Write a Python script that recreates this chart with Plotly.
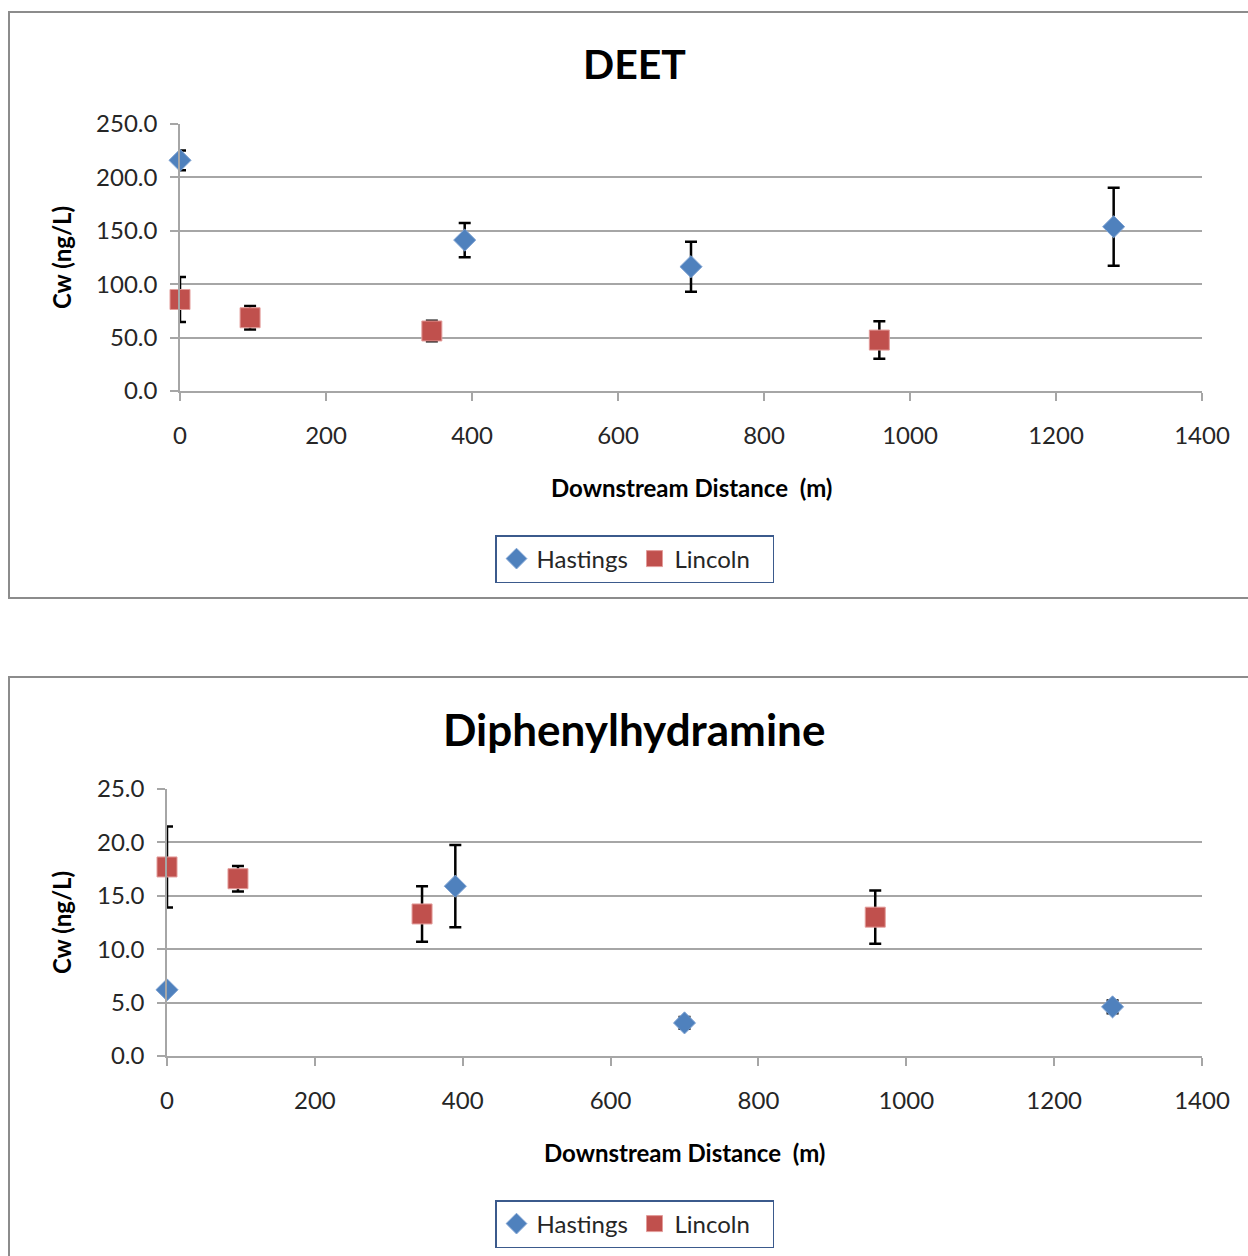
import plotly.graph_objects as go

# ---- data ----
dist_hastings = [0, 390, 700, 1279]
dist_lincoln = [0, 96, 345, 958]

deet_hastings = [216.0, 141.3, 116.4, 153.8]
deet_hastings_err = [9.2, 16.0, 23.4, 36.5]
deet_lincoln = [85.7, 68.6, 56.2, 47.7]
deet_lincoln_err = [21.0, 11.0, 9.6, 17.5]

dph_hastings = [6.2, 15.9, 3.1, 4.6]
dph_hastings_err = [0.3, 3.85, 0.55, 0.6]
dph_lincoln = [17.7, 16.6, 13.3, 13.0]
dph_lincoln_err = [3.8, 1.2, 2.6, 2.5]

x_ticks = [0, 200, 400, 600, 800, 1000, 1200, 1400]
deet_ticks = [0, 50, 100, 150, 200, 250]
dph_ticks = [0, 5, 10, 15, 20, 25]

titles = ["DEET", "Diphenylhydramine"]
title_sizes = [41, 44]
x_title = "Downstream Distance&nbsp; (m)"
y_title = "Cw (ng/L)"

W, H = 1248, 1256
BLUE = "#4F81BD"
RED = "#C0504D"
GRID = "#A6A6A6"
FONT = "Lato"


def px(x):
    return x / W


def py(y):
    return 1 - y / H


err_style = dict(type="data", color="black", thickness=2.5, width=6, visible=True)
diamond = dict(symbol="diamond", size=17, color=BLUE, line=dict(color="#7FA3D3", width=1))
square = dict(symbol="square", size=20, color=RED, line=dict(color="#E39C9A", width=1))

fig = go.Figure()
fig.add_trace(go.Scatter(
    x=dist_hastings, y=deet_hastings, mode="markers", name="Hastings", cliponaxis=False,
    marker=diamond, error_y=dict(array=deet_hastings_err, **err_style),
    xaxis="x", yaxis="y", legend="legend"))
fig.add_trace(go.Scatter(
    x=dist_lincoln, y=deet_lincoln, mode="markers", name="Lincoln", cliponaxis=False,
    marker=square, error_y=dict(array=deet_lincoln_err, **err_style),
    xaxis="x", yaxis="y", legend="legend"))
fig.add_trace(go.Scatter(
    x=dist_hastings, y=dph_hastings, mode="markers", name="Hastings", cliponaxis=False,
    marker=diamond, error_y=dict(array=dph_hastings_err, **err_style),
    xaxis="x2", yaxis="y2", legend="legend2"))
fig.add_trace(go.Scatter(
    x=dist_lincoln, y=dph_lincoln, mode="markers", name="Lincoln", cliponaxis=False,
    marker=square, error_y=dict(array=dph_lincoln_err, **err_style),
    xaxis="x2", yaxis="y2", legend="legend2"))

tickfont = dict(family=FONT, size=24, color="#262626")

xcommon = dict(range=[0, 1400], tickvals=x_ticks, ticks="outside", ticklen=8, tickwidth=1.5,
               tickcolor=GRID, showline=True, linecolor=GRID, linewidth=1.5, showgrid=False,
               zeroline=False, tickfont=tickfont, ticklabelstandoff=14, fixedrange=True,
               automargin=False)
ycommon = dict(ticks="outside", ticklen=8, tickwidth=1.5, tickcolor=GRID, showline=True,
               linecolor=GRID, linewidth=1.5, showgrid=True, gridcolor=GRID, gridwidth=1.5,
               zeroline=False, tickfont=tickfont, tickformat=".1f", ticklabelstandoff=8,
               fixedrange=True, automargin=False)

legend_common = dict(orientation="h", x=px(634.5), xanchor="center", yanchor="top",
                     bordercolor="#3B5A8C", borderwidth=1.5, bgcolor="white",
                     font=dict(family=FONT, size=24, color="#262626"), itemwidth=30,
                     entrywidth=93, entrywidthmode="pixels")

fig.update_layout(
    width=W, height=H, autosize=False,
    margin=dict(l=0, r=0, t=0, b=0, pad=0, autoexpand=False),
    paper_bgcolor="white", plot_bgcolor="white",
    font=dict(family=FONT, color="#262626"),
    xaxis=dict(domain=[px(180), px(1202)], anchor="y", **xcommon),
    yaxis=dict(domain=[py(391), py(124)], anchor="x", range=[0, 250], tickvals=deet_ticks, **ycommon),
    xaxis2=dict(domain=[px(167), px(1202)], anchor="y2", **xcommon),
    yaxis2=dict(domain=[py(1056), py(789)], anchor="x2", range=[0, 25], tickvals=dph_ticks, **ycommon),
    legend=dict(y=py(535), **legend_common),
    legend2=dict(y=py(1200), **legend_common),
    showlegend=True,
)

# chart borders
fig.add_shape(type="rect", xref="paper", yref="paper", x0=px(9), x1=1.05, y0=py(598), y1=py(12),
              line=dict(color="#8C8C8C", width=2), layer="below")
fig.add_shape(type="rect", xref="paper", yref="paper", x0=px(9), x1=1.05, y0=-0.05, y1=py(677),
              line=dict(color="#8C8C8C", width=2), layer="below")

# titles and axis titles
ann = []
for title, tsize, ty, xc, xty, yty in [(titles[0], title_sizes[0], 64, 691, 487, 258),
                                       (titles[1], title_sizes[1], 729, 684.5, 1152, 923)]:
    ann.append(dict(text=f"<b>{title}</b>", x=px(634), y=py(ty), xref="paper", yref="paper",
                    showarrow=False, xanchor="center", yanchor="middle",
                    font=dict(family=FONT, size=tsize, color="black")))
    ann.append(dict(text=f"<b>{x_title}</b>", x=px(xc), y=py(xty), xref="paper", yref="paper",
                    showarrow=False, xanchor="center", yanchor="middle",
                    font=dict(family=FONT, size=24, color="black")))
    ann.append(dict(text=f"<b>{y_title}</b>", x=px(61), y=py(yty), xref="paper", yref="paper",
                    showarrow=False, xanchor="center", yanchor="middle", textangle=-90,
                    font=dict(family=FONT, size=24, color="black")))
fig.update_layout(annotations=ann)

fig.write_html(
    "out.html",
    config={"displayModeBar": False},
    post_script="document.body.style.margin='0';document.body.style.overflow='hidden';",
)
